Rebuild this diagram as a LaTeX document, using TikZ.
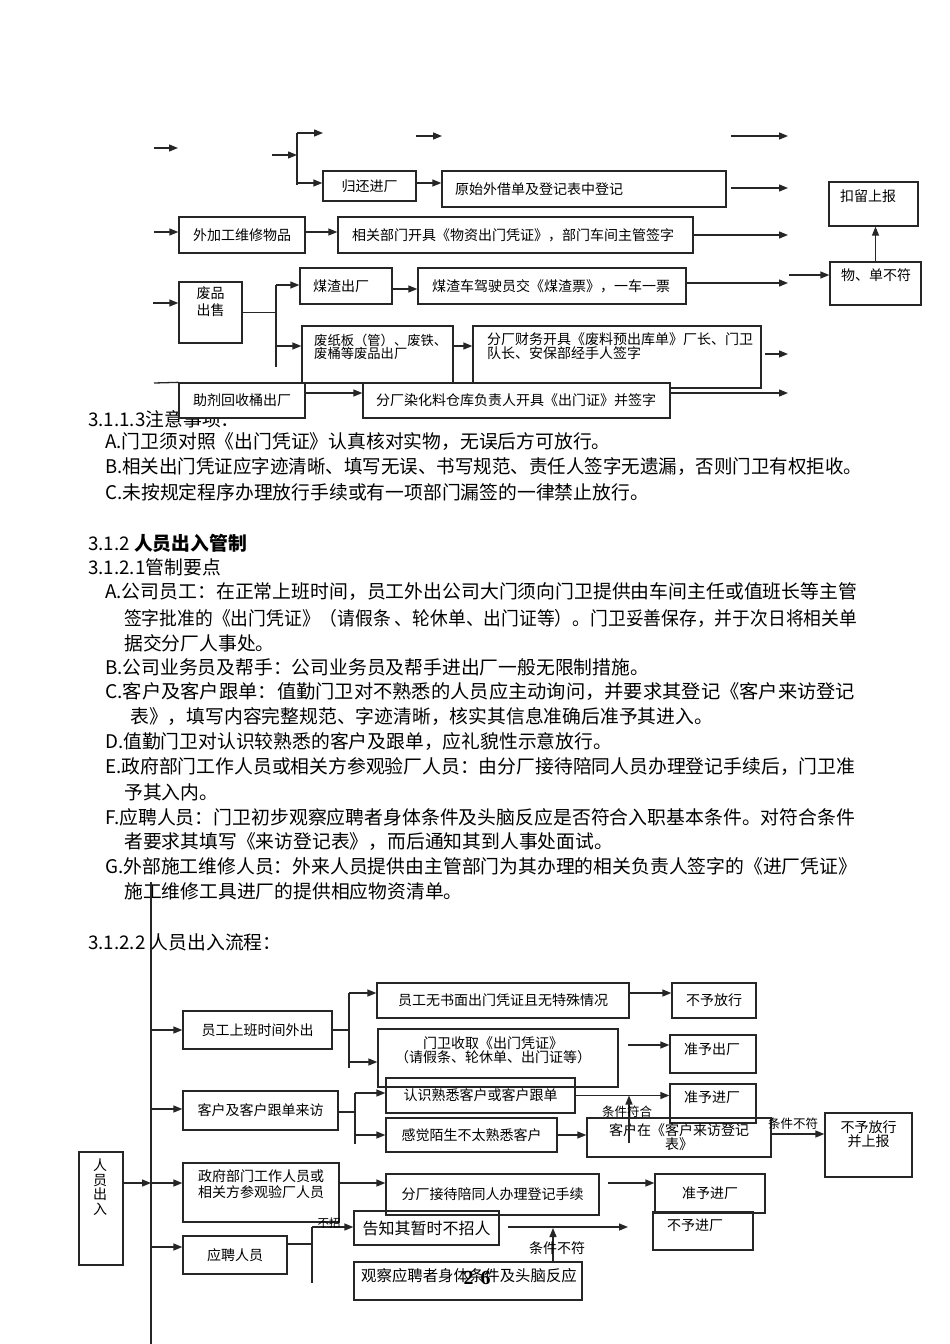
\documentclass[tikz,border=0pt]{standalone}
\usepackage{fontspec}
\setmainfont{Noto Sans CJK SC}
\newfontfamily\numfont{Liberation Serif}
\usepackage{graphicx}
\usetikzlibrary{arrows.meta, calc}
\newcommand\bodyfont{\fontsize{18.8pt}{25pt}\selectfont}
\newcommand\flowfont{\fontsize{14pt}{15pt}\selectfont}
\newcommand\jline[2]{\resizebox{#1}{\height}{#2}}
\tikzset{
  basebox/.style={rectangle, draw=black!85, line width=1.3pt, inner sep=0pt,
                  align=center, font=\flowfont},
  itembox/.style={basebox, fill=white},
  leftbox/.style={itembox, align=left, inner xsep=#1},
  flowbox/.style={basebox},
  boxtext/.style={inner sep=0pt, align=left, font=\flowfont},
  paraline/.style={anchor=west, inner sep=0pt, font=\bodyfont},
  tagtext/.style={inner sep=0pt, font=\fontsize{12.5pt}{13pt}\selectfont},
  arrow/.style={-{Triangle[length=9pt,width=7pt]}, line width=1.3pt, draw=black!85},
  plainline/.style={line width=1.3pt, draw=black!85}
}
\begin{document}
\begin{tikzpicture}[x=1pt, y=-1pt]
  \useasboundingbox (0,0) rectangle (950,1344);
  \fill[white] (0,0) rectangle (950,1344);

  % body text
  \node[paraline] (h113) at (88,419) {3.1.1.3注意事项：};
  \node[paraline] (p1a) at (105,442) {A.门卫须对照《出门凭证》认真核对实物，无误后方可放行。};
  \node[paraline] (p1b) at (105,467) {\jline{757pt}{B.相关出门凭证应字迹清晰、填写无误、书写规范、责任人签字无遗漏，否则门卫有权拒收。}};
  \node[paraline] (p1c) at (105,492) {C.未按规定程序办理放行手续或有一项部门漏签的一律禁止放行。};
  \node[paraline] (h12) at (88,543) {3.1.2 \textbf{人员出入管制}};
  \node[paraline] (h121) at (88,567) {3.1.2.1管制要点};
  \node[paraline] (pa1) at (105,592) {\jline{752pt}{A.公司员工：在正常上班时间，员工外出公司大门须向门卫提供由车间主任或值班长等主管}};
  \node[paraline] (pa2) at (124,618) {\jline{733pt}{签字批准的《出门凭证》（请假条 、轮休单、出门证等）。门卫妥善保存，并于次日将相关单}};
  \node[paraline] (pa3) at (124,643) {据交分厂人事处。};
  \node[paraline] (pb) at (105,667) {B.公司业务员及帮手：公司业务员及帮手进出厂一般无限制措施。};
  \node[paraline] (pc1) at (105,692) {\jline{750pt}{C.客户及客户跟单：值勤门卫对不熟悉的人员应主动询问，并要求其登记《客户来访登记}};
  \node[paraline] (pc2) at (130,717) {表》，填写内容完整规范、字迹清晰，核实其信息准确后准予其进入。};
  \node[paraline] (pd) at (105,742) {D.值勤门卫对认识较熟悉的客户及跟单，应礼貌性示意放行。};
  \node[paraline] (pe1) at (105,767) {\jline{750pt}{E.政府部门工作人员或相关方参观验厂人员：由分厂接待陪同人员办理登记手续后，门卫准}};
  \node[paraline] (pe2) at (124,792) {予其入内。};
  \node[paraline] (pf1) at (105,817) {\jline{750pt}{F.应聘人员：门卫初步观察应聘者身体条件及头脑反应是否符合入职基本条件。对符合条件}};
  \node[paraline] (pf2) at (124,842) {者要求其填写《来访登记表》，而后通知其到人事处面试。};
  \node[paraline] (pg1) at (105,866) {\jline{752pt}{G.外部施工维修人员：外来人员提供由主管部门为其办理的相关负责人签字的《进厂凭证》}};
  \node[paraline] (pg2) at (124,891) {施工维修工具进厂的提供相应物资清单。};
  \node[paraline] (h122) at (88,942) {3.1.2.2 人员出入流程：};

  % goods flow (upper part)
  \coordinate (c1a) at (154,148);  \coordinate (c1b) at (178,148);
  \coordinate (c2a) at (272,155);  \coordinate (c2j) at (297,155);
  \coordinate (c2t) at (297,133);  \coordinate (c2b) at (297,185);
  \coordinate (c2e) at (323,133);
  \coordinate (c3a) at (416,136);  \coordinate (c3b) at (442,136);
  \coordinate (c4a) at (731,136);  \coordinate (c4b) at (788,136);
  \coordinate (c5a) at (731,188);
  \coordinate (c6a) at (154,232);
  \coordinate (c7a) at (789,275);
  \coordinate (c8a) at (153,303);
  \coordinate (c9t) at (276,285);  \coordinate (c9b) at (276,367);
  \coordinate (c10a) at (765,354);
  \coordinate (c11a) at (154,383);

  \node[itembox, minimum width=93pt, minimum height=30pt] (guihuan) at (369.5,186) {归还进厂};
  \node[leftbox=13pt, text width=258pt, minimum height=36pt] (yuanshi) at (584,189) {原始外借单及登记表中登记};
  \node[itembox, minimum width=126pt, minimum height=36pt] (waijiagong) at (242,235) {外加工维修物品};
  \node[leftbox=14pt, text width=327pt, minimum height=36pt] (xiangguan) at (515.5,235) {相关部门开具《物资出门凭证》，部门车间主管签字};
  \node[itembox, minimum width=89pt, minimum height=44pt] (kouliu) at (873.5,204) {};
  \node[boxtext] (kouliu-t) at (868,196) {扣留上报};
  \node[itembox, minimum width=91pt, minimum height=43pt] (wudan) at (875.5,283.5) {};
  \node[boxtext] (wudan-t) at (876,275) {物、单不符};
  \node[itembox, minimum width=63pt, minimum height=61pt] (feipin) at (210.5,312.5) {};
  \node[boxtext, align=center, font=\fontsize{14pt}{17pt}\selectfont] (feipin-t) at (210.5,301.5) {废品\\出售};
  \node[leftbox=13pt, text width=66pt, minimum height=36pt] (meizha) at (346,286) {煤渣出厂};
  \node[leftbox=14pt, text width=240pt, minimum height=36pt] (meizhapiao) at (552,286) {煤渣车驾驶员交《煤渣票》，一车一票};
  \node[itembox, minimum width=151pt, minimum height=57pt] (feizhi) at (377.5,354.5) {};
  \node[boxtext, anchor=west, font=\fontsize{13.3pt}{13pt}\selectfont] (feizhi-t) at (314,346.5) {废纸板（管）、废铁、\\废桶等废品出厂};
  \node[itembox, minimum width=288pt, minimum height=62pt] (caiwu) at (617,357) {};
  \node[boxtext, anchor=west, font=\fontsize{14pt}{13pt}\selectfont] (caiwu-t) at (487,346.5) {分厂财务开具《废料预出库单》厂长、门卫\\队长、安保部经手人签字};
  \node[itembox, minimum width=126pt, minimum height=35pt] (zhuji) at (242,400.5) {助剂回收桶出厂};
  \node[leftbox=13pt, text width=281pt, minimum height=35pt] (ranhua) at (516.5,400.5) {分厂染化料仓库负责人开具《出门证》并签字};

  \draw[arrow] (c1a) -- (c1b);
  \draw[arrow] (c2a) -- (c2j);
  \draw[plainline] (c2t) -- (c2b);
  \draw[arrow] (c2t) -- (c2e);
  \draw[arrow] ([yshift=3pt]guihuan.west -| c2j) -- ([yshift=3pt]guihuan.west);
  \draw[arrow] (c3a) -- (c3b);
  \draw[arrow] (c4a) -- (c4b);
  \draw[arrow] ([yshift=3pt]guihuan.east) -- ([yshift=3pt]guihuan.east -| yuanshi.west);
  \draw[arrow] (c5a) -- (c5a -| c4b);
  \draw[arrow] (c6a) -- ([yshift=3pt]waijiagong.west);
  \draw[arrow] ([yshift=3pt]waijiagong.east) -- ([yshift=3pt]waijiagong.east -| xiangguan.west);
  \draw[arrow] (xiangguan.east) -- (xiangguan.east -| c4b);
  \draw[arrow] (wudan.north) -- (wudan.north |- kouliu.south);
  \draw[arrow] (c7a) -- ([yshift=8.5pt]wudan.west);
  \draw[arrow] (c8a) -- ([yshift=9.5pt]feipin.west);
  \draw[plainline] (feipin.east) -- (feipin.east -| c9t);
  \draw[plainline] (c9t) -- (c9b);
  \draw[arrow] (c9t) -- (c9t -| meizha.west);
  \draw[arrow] ([yshift=8.5pt]feizhi.west -| c9t) -- ([yshift=8.5pt]feizhi.west);
  \draw[arrow] ([yshift=-3pt]meizha.east) -- ([yshift=-3pt]meizha.east -| meizhapiao.west);
  \draw[arrow] ([yshift=3pt]meizhapiao.east) -- ([yshift=3pt]meizhapiao.east -| c4b);
  \draw[arrow] ([yshift=8.5pt]feizhi.east) -- ([yshift=8.5pt]feizhi.east -| caiwu.west);
  \draw[arrow] (c10a) -- (c10a -| c4b);
  \draw[plainline] (c11a) -- (zhuji.north west);
  \draw[arrow] ([yshift=7.5pt]zhuji.east) -- ([yshift=7.5pt]zhuji.east -| ranhua.west);
  \draw[arrow] ([yshift=7.5pt]ranhua.east) -- ([yshift=7.5pt]ranhua.east -| c4b);

  % people flow (lower part)
  \coordinate (mtop) at (151,882);  \coordinate (mbot) at (151,1344);
  \coordinate (rj) at (151,1183);
  \coordinate (ytop) at (349,993);  \coordinate (ybot) at (349,1068);
  \coordinate (ktop) at (355,1093); \coordinate (kbot) at (355,1144);
  \coordinate (gtop) at (312,1227); \coordinate (gbot) at (312,1283);
  \coordinate (mw) at (628,1045);
  \coordinate (fit) at (629,1143);
  \coordinate (fc) at (608,1183);
  \coordinate (gz) at (508,1227);   \coordinate (gze) at (628,1227);
  \coordinate (gc) at (553,1228);

  \node[flowbox, minimum width=149pt, minimum height=38pt] (yuangong) at (257.5,1030) {员工上班时间外出};
  \node[flowbox, minimum width=252pt, minimum height=35pt] (wushumian) at (503,1000.5) {员工无书面出门凭证且无特殊情况};
  \node[flowbox, minimum width=84pt, minimum height=35pt] (buyufangxing) at (714,1000.5) {不予放行};
  \node[flowbox, minimum width=240pt, minimum height=58pt] (menwei) at (498,1058) {};
  \node[boxtext, align=center, font=\fontsize{14pt}{14pt}\selectfont] (menwei-t) at (493,1050) {门卫收取《出门凭证》\\（请假条、轮休单、出门证等）};
  \node[flowbox, minimum width=86pt, minimum height=38pt] (zhunyuchu) at (713,1054) {};
  \node[boxtext] (zhunyuchu-t) at (712,1049) {准予出厂};
  \node[flowbox, minimum width=155pt, minimum height=39pt] (kehu) at (260.5,1110.5) {客户及客户跟单来访};
  \node[flowbox, minimum width=189pt, minimum height=35pt] (renshi) at (480.5,1095.5) {认识熟悉客户或客户跟单};
  \node[flowbox, minimum width=171pt, minimum height=34pt] (ganjue) at (471.5,1135) {感觉陌生不太熟悉客户};
  \node[flowbox, minimum width=86pt, minimum height=39pt] (zhunyujin) at (713,1103.5) {};
  \node[boxtext] (zhunyujin-t) at (712,1097) {准予进厂};
  \node[flowbox, minimum width=184pt, minimum height=39pt, font=\fontsize{14pt}{14pt}\selectfont] (kehuzai) at (679,1137.5) {客户在《客户来访登记\\表》};
  \node[flowbox, minimum width=87pt, minimum height=64pt] (shangbao) at (868.5,1145) {};
  \node[boxtext, align=center, font=\fontsize{14pt}{14pt}\selectfont] (shangbao-t) at (868.5,1134) {不予放行\\并上报};
  \node[flowbox, minimum width=44pt, minimum height=113pt] (renyuan) at (101,1208.5) {};
  \node[boxtext, align=center, font=\fontsize{14pt}{14.5pt}\selectfont] (renyuan-t) at (100,1187) {人\\员\\出\\入};
  \node[flowbox, minimum width=156pt, minimum height=59pt] (zhengfu) at (261,1192.5) {};
  \node[boxtext, align=center, font=\fontsize{14pt}{16pt}\selectfont] (zhengfu-t) at (261,1184) {政府部门工作人员或\\相关方参观验厂人员};
  \node[flowbox, minimum width=213pt, minimum height=41pt] (fenchang) at (492.5,1194.5) {分厂接待陪同人办理登记手续};
  \node[flowbox, minimum width=110pt, minimum height=39pt] (zhunyujin2) at (710,1193.5) {准予进厂};
  \node[flowbox, minimum width=100pt, minimum height=38pt] (buyujin) at (703,1231) {};
  \node[boxtext] (buyujin-t) at (695,1225) {不予进厂};
  \node[flowbox, minimum width=104pt, minimum height=38pt] (yingpin) at (235,1255) {应聘人员};
  \node[flowbox, minimum width=145pt, minimum height=34pt, font=\fontsize{16pt}{16pt}\selectfont] (gaozhi) at (426.5,1228) {告知其暂时不招人};
  \node[flowbox, minimum width=228pt, minimum height=38pt] (guancha) at (468,1281) {};
  \node[boxtext, font=\fontsize{15.4pt}{16pt}\selectfont] (guancha-t) at (469,1276) {观察应聘者身体条件及头脑反应};

  \draw[plainline] (mtop) -- (mbot);
  \draw[arrow] (yuangong.west -| mtop) -- (yuangong.west);
  \draw[arrow] ([yshift=1.5pt]kehu.west -| mtop) -- ([yshift=1.5pt]kehu.west);
  \draw[arrow] (renyuan.east |- rj) -- (rj);
  \draw[arrow] (rj) -- (rj -| zhengfu.west);
  \draw[arrow] ([yshift=8pt]yingpin.west -| mtop) -- ([yshift=8pt]yingpin.west);

  \draw[plainline] (yuangong.east) -- (yuangong.east -| ytop);
  \draw[plainline] (ytop) -- (ybot);
  \draw[arrow] (ytop) -- (ytop -| wushumian.west);
  \draw[arrow] ([yshift=-4pt]menwei.west -| ytop) -- ([yshift=-4pt]menwei.west);
  \draw[arrow] ([yshift=7.5pt]wushumian.east) -- ([yshift=7.5pt]wushumian.east -| buyufangxing.west);
  \draw[arrow] (mw) -- (mw -| zhunyuchu.west);

  \draw[plainline] ([yshift=-1.5pt]kehu.east) -- ([yshift=-1.5pt]kehu.east -| ktop);
  \draw[plainline] (ktop) -- (kbot);
  \draw[arrow] (ktop) -- (ktop -| renshi.west);
  \draw[arrow] (ganjue.west -| ktop) -- (ganjue.west);
  \draw[arrow] (renshi.east) -- (renshi.east -| zhunyujin.west);
  \draw[arrow] (ganjue.east) -- (ganjue.east -| kehuzai.west);
  \draw[arrow] (fit) -- (fit |- renshi.east);
  \node[tagtext] (fuhe) at (627,1112) {条件符合};
  \draw[arrow] ([yshift=3.5pt]kehuzai.east) -- ([yshift=3.5pt]kehuzai.east -| shangbao.west);
  \node[tagtext] (bufu1) at (793,1124) {条件不符};

  \draw[arrow] (rj -| zhengfu.east) -- (rj -| fenchang.west);
  \draw[arrow] (fc) -- (fc -| zhunyujin2.west);

  \draw[plainline] ([yshift=11pt]yingpin.east) -- ([yshift=11pt]yingpin.east -| gtop);
  \draw[plainline] (gtop) -- (gbot);
  \draw[arrow] (gtop) -- (gtop -| gaozhi.west);
  \node[tagtext, font=\fontsize{11.5pt}{12pt}\selectfont] (buzhao) at (329,1223) {不招};
  \draw[arrow] (gz) -- (gze);
  \draw[arrow] (guancha.north -| gc) -- (gc);
  \node[tagtext, font=\fontsize{14pt}{14pt}\selectfont] (bufu2) at (557,1248) {条件不符};

  \node[inner sep=0pt, font=\numfont\bfseries\fontsize{20pt}{20pt}\selectfont] (pagenum) at (477,1278) {2\hspace{7pt}6};

\end{tikzpicture}
\end{document}
